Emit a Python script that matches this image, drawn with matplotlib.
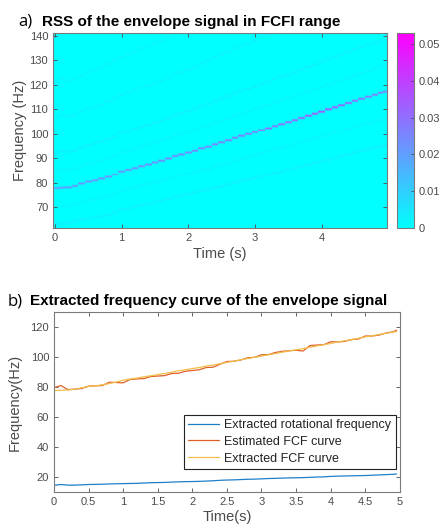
import numpy as np
import matplotlib
matplotlib.use("Agg")
import matplotlib.pyplot as plt

# ---------------- data ----------------
time_s = [0.0, 0.1, 0.2, 0.3, 0.4, 0.5, 0.6, 0.7, 0.8, 0.9,
          1.0, 1.1, 1.2, 1.3, 1.4, 1.5, 1.6, 1.7, 1.8, 1.9,
          2.0, 2.1, 2.2, 2.3, 2.4, 2.5, 2.6, 2.7, 2.8, 2.9,
          3.0, 3.1, 3.2, 3.3, 3.4, 3.5, 3.6, 3.7, 3.8, 3.9,
          4.0, 4.1, 4.2, 4.3, 4.4, 4.5, 4.6, 4.7, 4.8, 4.9, 4.95]

rot_freq = [14.5, 15.0, 14.6, 14.6, 14.8, 15.0, 15.1, 15.2, 15.4, 15.5,
            15.6, 15.7, 15.8, 16.0, 16.2, 16.3, 16.4, 16.6, 16.8, 16.9,
            17.0, 17.1, 17.3, 17.5, 17.8, 18.0, 18.1, 18.3, 18.5, 18.6,
            18.8, 19.0, 19.1, 19.3, 19.4, 19.5, 19.6, 19.8, 20.0, 20.1,
            20.4, 20.6, 20.7, 20.8, 20.9, 21.0, 21.2, 21.4, 21.6, 21.8, 22.0]

est_fcf = [79.5, 81.0, 78.3, 78.6, 79.0, 80.6, 80.8, 81.0, 83.2, 83.0,
           82.8, 85.0, 85.4, 85.6, 87.0, 87.3, 87.6, 89.0, 89.2, 90.5,
           91.0, 91.5, 93.0, 93.2, 95.2, 97.0, 97.2, 98.0, 99.5, 99.8,
           101.5, 101.6, 103.0, 103.8, 104.2, 104.5, 104.0, 107.6, 108.0, 108.2,
           110.2, 110.0, 110.4, 111.6, 112.0, 114.0, 114.0, 114.6, 116.0, 116.8, 117.8]

ext_fcf = [77.6, 77.8, 78.0, 78.5, 79.5, 80.3, 80.8, 81.5, 82.3, 83.3,
           84.6, 85.3, 86.0, 86.8, 87.5, 88.3, 89.0, 89.9, 90.9, 91.5,
           92.3, 93.0, 94.0, 94.6, 95.6, 96.4, 97.2, 98.2, 99.0, 99.8,
           100.6, 101.5, 102.3, 103.2, 104.0, 104.8, 105.6, 106.5, 107.4, 108.2,
           109.0, 110.0, 110.8, 111.6, 112.5, 113.4, 114.2, 115.0, 115.8, 116.6, 117.0]

# ridge strength of the RSS along the FCF curve
ridge_amp = [0.020, 0.021, 0.021, 0.022, 0.022, 0.022, 0.022, 0.023, 0.023, 0.022,
             0.022, 0.022, 0.023, 0.023, 0.023, 0.023, 0.024, 0.024, 0.024, 0.024,
             0.024, 0.025, 0.025, 0.025, 0.026, 0.026, 0.026, 0.026, 0.027, 0.027,
             0.027, 0.028, 0.028, 0.028, 0.029, 0.029, 0.030, 0.031, 0.033, 0.034,
             0.035, 0.034, 0.033, 0.031, 0.030, 0.029, 0.028, 0.027, 0.027, 0.026, 0.026]

# faint sidebands (multiples of the rotational frequency) in the RSS
side_orders = [-1.0, -0.5, 0.5, 1.0, 2.0, 3.0]
side_amps = [0.0028, 0.0018, 0.0018, 0.0028, 0.0022, 0.0020]

freq_bins = np.arange(61.5, 141.5, 0.4)

series_labels = ["Extracted rotational frequency", "Estimated FCF curve", "Extracted FCF curve"]
series_colors = ["#1f80c8", "#e0602a", "#f0be4a"]

# ---------------- build RSS map ----------------
t = np.array(time_s)
fr = np.array(rot_freq)
fc = np.array(ext_fcf)
amp = np.array(ridge_amp)
Z = np.zeros((len(freq_bins), len(t)))
sig = 0.32
for j in range(len(t)):
    Z[:, j] += amp[j] * np.exp(-0.5 * ((freq_bins - fc[j]) / sig) ** 2)
    for o, a in zip(side_orders, side_amps):
        Z[:, j] += a * np.exp(-0.5 * ((freq_bins - (fc[j] + o * fr[j])) / 0.4) ** 2)

# ---------------- figure ----------------
gray = "#4a4a4a"
edge = "#7a7a7a"
plt.rcParams["font.family"] = ["Liberation Sans", "DejaVu Sans"]

fig = plt.figure(figsize=(4.4, 5.31), dpi=100)
ax1 = fig.add_axes([0.1205, 0.5706, 0.759, 0.3672])
cax = fig.add_axes([0.9023, 0.5706, 0.0386, 0.3672])
ax2 = fig.add_axes([0.1227, 0.0734, 0.786, 0.339])

mesh = ax1.pcolormesh(t, freq_bins, Z, cmap="cool", vmin=0, vmax=0.053, shading="nearest")
ax1.set_xlim(-0.03, 4.98)
ax1.set_ylim(61.4, 141.2)
ax1.set_xticks([0, 1, 2, 3, 4])
ax1.set_yticks([70, 80, 90, 100, 110, 120, 130, 140])
ax1.set_xlabel("Time (s)", fontsize=10.5, color=gray, labelpad=3)
ax1.set_ylabel("Frequency (Hz)", fontsize=10.5, color=gray, labelpad=2)

cb = fig.colorbar(mesh, cax=cax, ticks=[0, 0.01, 0.02, 0.03, 0.04, 0.05])
cb.ax.set_yticklabels(["0", "0.01", "0.02", "0.03", "0.04", "0.05"])
cb.outline.set_edgecolor(edge)
cb.outline.set_linewidth(0.8)
cax.tick_params(direction="in", length=2.5, width=0.6, colors=gray, labelsize=8, right=True, left=False)

for ax in (ax1, ax2):
    ax.tick_params(direction="in", length=3, width=0.6, colors=gray, labelsize=8,
                   top=True, right=True)
    for s in ax.spines.values():
        s.set_edgecolor(edge)
        s.set_linewidth(0.8)

ax2.plot(time_s, rot_freq, color=series_colors[0], lw=0.9, label=series_labels[0])
ax2.plot(time_s, est_fcf, color=series_colors[1], lw=0.9, label=series_labels[1])
ax2.plot(time_s, ext_fcf, color=series_colors[2], lw=0.9, label=series_labels[2])
ax2.set_xlim(0, 5)
ax2.set_ylim(10, 130)
ax2.set_xticks([0, 0.5, 1, 1.5, 2, 2.5, 3, 3.5, 4, 4.5, 5])
ax2.set_xticklabels(["0", "0.5", "1", "1.5", "2", "2.5", "3", "3.5", "4", "4.5", "5"])
ax2.set_yticks([20, 40, 60, 80, 100, 120])
ax2.set_xlabel("Time(s)", fontsize=10.5, color=gray, labelpad=2)
ax2.set_ylabel("Frequency(Hz)", fontsize=10.5, color=gray, labelpad=6)
leg = ax2.legend(loc="lower right", bbox_to_anchor=(0.988, 0.128), borderaxespad=0,
                 fontsize=9, fancybox=False, edgecolor="#222222", framealpha=1,
                 handlelength=2.5, handletextpad=0.4, labelspacing=0.38, borderpad=0.35)
leg.get_frame().set_linewidth(0.8)
for txt in leg.get_texts():
    txt.set_color("#222222")

# titles
fig.text(18 / 440, 1 - 26 / 531, "a)", fontsize=12, family=["Open Sans", "DejaVu Sans"], va="baseline")
fig.text(42 / 440, 1 - 26 / 531, "RSS of the envelope signal in FCFI range", fontsize=11,
         fontweight="bold", va="baseline")
fig.text(8 / 440, 1 - 305 / 531, "b)", fontsize=12, family=["Open Sans", "DejaVu Sans"], va="baseline")
fig.text(30 / 440, 1 - 305 / 531, "Extracted frequency curve of the envelope signal", fontsize=11,
         fontweight="bold", va="baseline")

fig.savefig("out.png", dpi=100)
